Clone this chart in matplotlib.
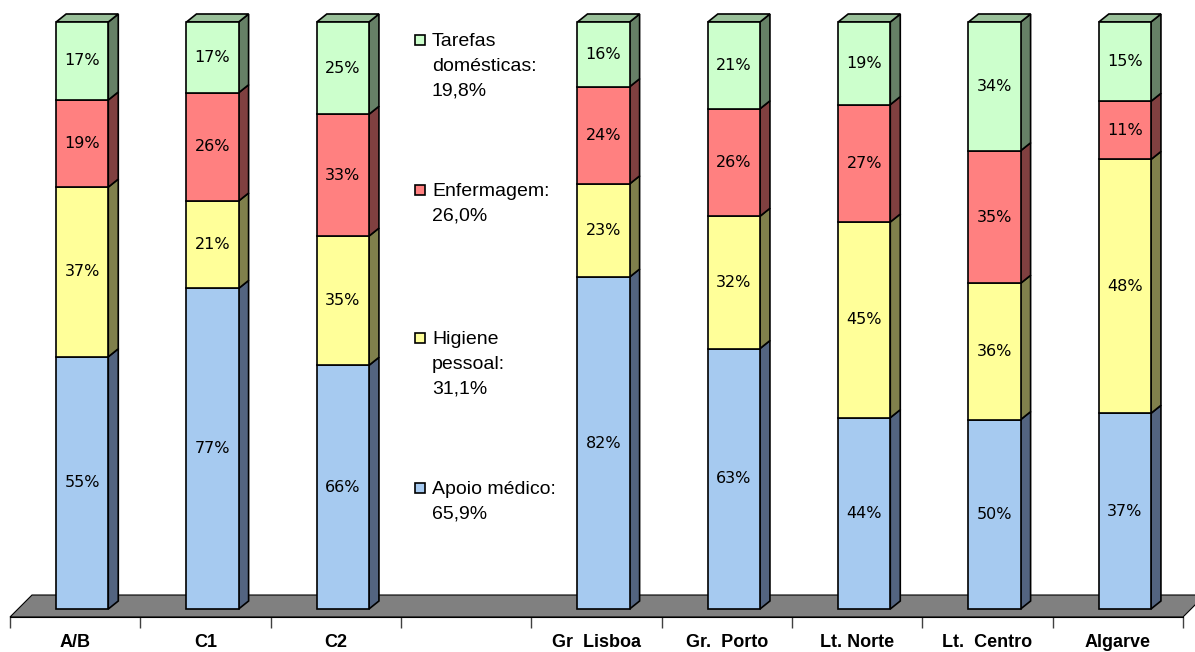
import matplotlib
matplotlib.use("Agg")
from matplotlib import pyplot as plt
from matplotlib.patches import Polygon, Rectangle
import numpy as np

categories = ["A/B", "C1", "C2", "", "Gr  Lisboa", "Gr.  Porto", "Lt. Norte", "Lt.  Centro", "Algarve"]
apoio = [55, 77, 66, 0, 82, 63, 44, 50, 37]
higiene = [37, 21, 35, 0, 23, 32, 45, 36, 48]
enferm = [19, 26, 33, 0, 24, 26, 27, 35, 11]
tarefas = [17, 17, 25, 0, 16, 21, 19, 34, 15]

series = [apoio, higiene, enferm, tarefas]
face_colors = ["#A6CAF0", "#FFFF99", "#FF8080", "#CCFFCC"]
side_colors = ["#536480", "#80804C", "#804040", "#668066"]
top_color = "#99BF99"

legend_labels = [
    "Tarefas\ndomésticas:\n19,8%",
    "Enfermagem:\n26,0%",
    "Higiene\npessoal:\n31,1%",
    "Apoio médico:\n65,9%",
]
legend_colors = ["#CCFFCC", "#FF8080", "#FFFF99", "#A6CAF0"]
legend_y = [40, 190, 338, 488]  # pixel rows of first line

W, H = 1195, 652
fig = plt.figure(figsize=(W / 100, H / 100), dpi=100)

# main axes: slots span x 10..1183 px, baseline at 617 px
y_lo = -(617 - 609) / 587
y_hi = 1 + 17 / 587
ax = fig.add_axes([10 / W, (H - 617) / H, 1173 / W, 612 / H])
ax.set_xlim(-0.5, 8.5)
ax.set_ylim(y_lo, y_hi)
for s in ["top", "left", "right"]:
    ax.spines[s].set_visible(False)
ax.spines["bottom"].set_color("black")
ax.set_yticks([])

# floor
fdx, fdy = 22 / 130.33, 22 / 587
ax.add_patch(Polygon([(-0.5, y_lo), (8.5, y_lo), (8.5 + fdx, y_lo + fdy), (-0.5 + fdx, y_lo + fdy)],
                     closed=True, facecolor="#808080", edgecolor="black", lw=0.8,
                     clip_on=False, zorder=1))

x = np.arange(len(categories))
totals = np.sum(series, axis=0)
has = totals > 0
off, bw = 0.054, 0.40
dx, dy = 10 / 130.33, 8 / 587

bottom = np.zeros(len(categories))
for k, vals in enumerate(series):
    vals = np.array(vals, dtype=float)
    frac = np.divide(vals, totals, out=np.zeros_like(vals), where=has)
    ax.bar(x[has] + off, frac[has], bw, bottom=bottom[has], color=face_colors[k],
           edgecolor="black", lw=1.2, zorder=3, clip_on=False)
    for i in x[has]:
        xr = x[i] + off + bw / 2
        b, t = bottom[i], bottom[i] + frac[i]
        ax.add_patch(Polygon([(xr, b), (xr + dx, b + dy), (xr + dx, t + dy), (xr, t)],
                             closed=True, facecolor=side_colors[k], edgecolor="black",
                             lw=1.2, zorder=2.5, clip_on=False))
        if k == len(series) - 1:
            xl = x[i] + off - bw / 2
            ax.add_patch(Polygon([(xl, t), (xl + dx, t + dy), (xr + dx, t + dy), (xr, t)],
                                 closed=True, facecolor=top_color, edgecolor="black",
                                 lw=1.2, zorder=2.5, clip_on=False))
        ax.text(x[i] + off, b + frac[i] / 2, f"{int(vals[i])}%", ha="center", va="center",
                fontsize=11.5, family="DejaVu Sans", zorder=4)
    bottom += frac

# ticks at slot boundaries, labels at centers
ax.set_xticks(np.arange(-0.5, 9, 1))
ax.set_xticklabels([])
ax.tick_params(axis="x", which="major", length=8, width=1, color="#404040")
ax.set_xticks(x, minor=True)
ax.set_xticklabels(categories, minor=True, fontsize=13, fontweight="bold",
                   family="Liberation Sans")
ax.tick_params(axis="x", which="minor", length=0, pad=12)

# legend drawn in pixel space
lax = fig.add_axes([0, 0, 1, 1])
lax.set_xlim(0, W)
lax.set_ylim(H, 0)
lax.axis("off")
for lab, c, yy in zip(legend_labels, legend_colors, legend_y):
    lax.add_patch(Rectangle((415, yy - 5), 10, 10, facecolor=c, edgecolor="black", lw=1.2))
    lax.text(432, yy - 7, lab, ha="left", va="top", fontsize=14, family="Liberation Sans",
             linespacing=1.6)

fig.savefig("out.png", dpi=100)
